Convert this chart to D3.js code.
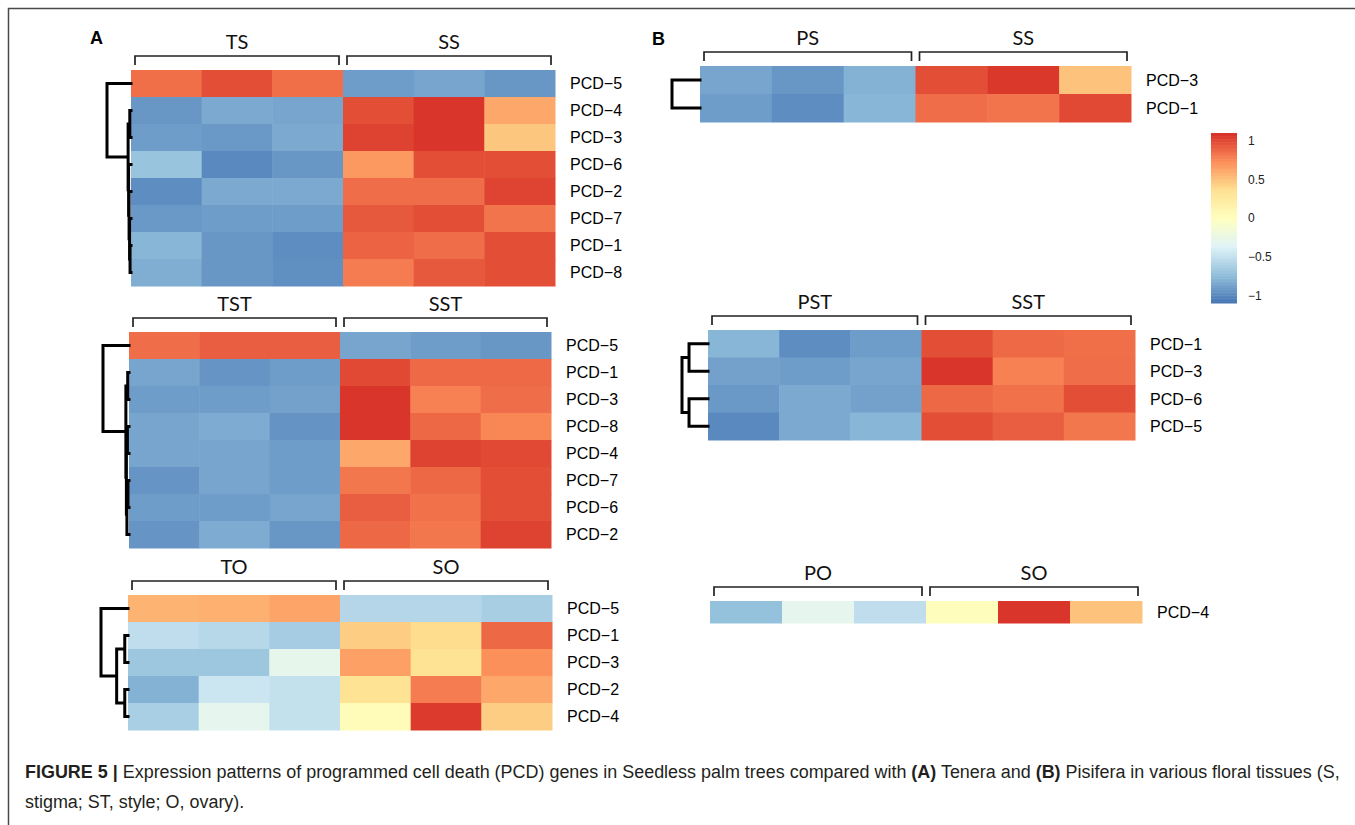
<!DOCTYPE html>
<html>
<head>
<meta charset="utf-8">
<script src="https://cdn.jsdelivr.net/npm/d3@7"></script>
<style>
  body { margin: 0; background: #fff; }
  svg { display: block; }
</style>
</head>
<body>
<svg id="fig" width="1355" height="825"></svg>
<script>
// ---- data (row-scaled expression) ----

// A: Tenera vs Seedless
const aStigmaGroups = ["TS", "SS"];
const aStigmaRows = ["PCD-5", "PCD-4", "PCD-3", "PCD-6", "PCD-2", "PCD-7", "PCD-1", "PCD-8"];
const aStigmaValues = [
  [0.85, 0.98, 0.85, -0.9, -0.86, -0.93],
  [-0.93, -0.84, -0.86, 0.98, 1.08, 0.62],
  [-0.9, -0.92, -0.84, 1.03, 1.08, 0.48],
  [-0.7, -1.0, -0.93, 0.68, 0.98, 0.98],
  [-0.98, -0.84, -0.84, 0.86, 0.86, 1.02],
  [-0.92, -0.9, -0.9, 0.94, 0.98, 0.83],
  [-0.78, -0.93, -0.98, 0.9, 0.86, 0.98],
  [-0.82, -0.93, -0.97, 0.8, 0.94, 0.98]
];
// tree: leaf = row index, node = {h: merge height (0..1), c: [left, right]}
const aStigmaTree = { h: 1, c: [0, { h: 0.12, c: [{ h: 0.05, c: [1, 2] },
  { h: 0.1, c: [3, { h: 0.08, c: [4, { h: 0.06, c: [5, { h: 0.04, c: [6, 7] }] }] }] }] }] };

const aStyleGroups = ["TST", "SST"];
const aStyleRows = ["PCD-5", "PCD-1", "PCD-3", "PCD-8", "PCD-4", "PCD-7", "PCD-6", "PCD-2"];
const aStyleValues = [
  [0.86, 0.92, 0.92, -0.86, -0.9, -0.93],
  [-0.86, -0.94, -0.9, 1.0, 0.87, 0.87],
  [-0.9, -0.9, -0.88, 1.08, 0.78, 0.86],
  [-0.86, -0.83, -0.95, 1.08, 0.88, 0.76],
  [-0.86, -0.86, -0.9, 0.62, 1.03, 1.0],
  [-0.94, -0.86, -0.9, 0.82, 0.88, 0.98],
  [-0.9, -0.9, -0.86, 0.92, 0.84, 0.98],
  [-0.94, -0.83, -0.93, 0.88, 0.82, 1.03]
];
const aStyleTree = { h: 1, c: [0, { h: 0.12, c: [{ h: 0.05, c: [1, 2] },
  { h: 0.1, c: [{ h: 0.06, c: [3, 4] }, { h: 0.08, c: [{ h: 0.04, c: [5, 6] }, 7] }] }] }] };

const aOvaryGroups = ["TO", "SO"];
const aOvaryRows = ["PCD-5", "PCD-1", "PCD-3", "PCD-2", "PCD-4"];
const aOvaryValues = [
  [0.56, 0.58, 0.63, -0.57, -0.57, -0.63],
  [-0.52, -0.56, -0.64, 0.45, 0.38, 0.88],
  [-0.68, -0.68, -0.28, 0.65, 0.33, 0.72],
  [-0.8, -0.46, -0.5, 0.33, 0.8, 0.62],
  [-0.62, -0.3, -0.5, 0.04, 1.06, 0.45]
];
const aOvaryTree = { h: 1, c: [0, { h: 0.42, c: [{ h: 0.12, c: [1, 2] }, { h: 0.12, c: [3, 4] }] }] };

// B: Pisifera vs Seedless
const bStigmaGroups = ["PS", "SS"];
const bStigmaRows = ["PCD-3", "PCD-1"];
const bStigmaValues = [
  [-0.86, -0.93, -0.8, 0.98, 1.07, 0.5],
  [-0.9, -0.98, -0.78, 0.86, 0.83, 1.0]
];
const bStigmaTree = { h: 1, c: [0, 1] };

const bStyleGroups = ["PST", "SST"];
const bStyleRows = ["PCD-1", "PCD-3", "PCD-6", "PCD-5"];
const bStyleValues = [
  [-0.78, -0.98, -0.9, 0.98, 0.87, 0.85],
  [-0.88, -0.9, -0.86, 1.08, 0.78, 0.86],
  [-0.92, -0.84, -0.88, 0.88, 0.84, 0.98],
  [-1.0, -0.84, -0.78, 0.98, 0.92, 0.82]
];
const bStyleTree = { h: 1, c: [{ h: 0.73, c: [0, 1] }, { h: 0.73, c: [2, 3] }] };

const bOvaryGroups = ["PO", "SO"];
const bOvaryRows = ["PCD-4"];
const bOvaryValues = [
  [-0.72, -0.3, -0.52, 0.02, 1.08, 0.5]
];

const legendTicks = [-1, -0.5, 0, 0.5, 1];
const valueRange = [-1.1, 1.1];
const palette = ["#4575B4", "#91BFDB", "#E0F3F8", "#FFFFBF", "#FEE090", "#FC8D59", "#D73027"];

// ---- layout ----
const panels = [
  { groups: aStigmaGroups, rows: aStigmaRows, values: aStigmaValues, tree: aStigmaTree, x0: 131, x1: 555, y0: 70, rowH: 27, dendroW: 24 },
  { groups: aStyleGroups, rows: aStyleRows, values: aStyleValues, tree: aStyleTree, x0: 129, x1: 551, y0: 332, rowH: 27, dendroW: 26 },
  { groups: aOvaryGroups, rows: aOvaryRows, values: aOvaryValues, tree: aOvaryTree, x0: 128, x1: 552, y0: 595, rowH: 27, dendroW: 27 },
  { groups: bStigmaGroups, rows: bStigmaRows, values: bStigmaValues, tree: bStigmaTree, x0: 700, x1: 1131, y0: 66, rowH: 28, dendroW: 28 },
  { groups: bStyleGroups, rows: bStyleRows, values: bStyleValues, tree: bStyleTree, x0: 708, x1: 1135, y0: 330, rowH: 27.5, dendroW: 26 },
  { groups: bOvaryGroups, rows: bOvaryRows, values: bOvaryValues, tree: null, x0: 710, x1: 1142, y0: 601, rowH: 22, dendroW: 0 }
];

const color = d3.scaleLinear()
  .domain(d3.range(palette.length).map(i => valueRange[0] + i * (valueRange[1] - valueRange[0]) / (palette.length - 1)))
  .range(palette)
  .clamp(true);

const svg = d3.select("#fig");
const labelFont = "'Liberation Sans', Arial, sans-serif";
const groupFont = "Lato, 'Open Sans', sans-serif";
const minus = s => s.replace("-", "\u2212");

// frame lines
svg.append("path")
  .attr("d", "M8.5,825 V8.5 H1355")
  .attr("fill", "none")
  .attr("stroke", "#4a4a4a")
  .attr("stroke-width", 1.5);

// panel letters
svg.selectAll("text.letter")
  .data([{ t: "A", x: 90, y: 44 }, { t: "B", x: 652, y: 45 }])
  .enter()
  .append("text")
  .attr("class", "letter")
  .attr("x", d => d.x)
  .attr("y", d => d.y)
  .attr("font-family", labelFont)
  .attr("font-weight", "bold")
  .attr("font-size", 18)
  .text(d => d.t);

function drawHeatmap(p) {
  const g = svg.append("g");
  const nCols = p.values[0].length;
  const perGroup = nCols / p.groups.length;
  const x = d3.scaleBand().domain(d3.range(nCols)).range([p.x0, p.x1]);
  const y = d3.scaleBand().domain(p.rows).range([p.y0, p.y0 + p.rowH * p.rows.length]);

  const cells = p.values.flatMap((row, i) => row.map((v, j) => ({ r: p.rows[i], j, v })));
  g.selectAll("rect.cell")
    .data(cells)
    .enter()
    .append("rect")
    .attr("class", "cell")
    .attr("x", d => x(d.j))
    .attr("y", d => y(d.r))
    .attr("width", x.bandwidth() + 0.5)
    .attr("height", y.bandwidth() + 0.5)
    .attr("fill", d => color(d.v));

  g.selectAll("text.row")
    .data(p.rows)
    .enter()
    .append("text")
    .attr("class", "row")
    .attr("x", p.x1 + 15)
    .attr("y", d => y(d) + y.bandwidth() / 2)
    .attr("dy", "0.36em")
    .attr("font-family", labelFont)
    .attr("font-size", 16)
    .attr("fill", "#000")
    .text(minus);

  // group brackets + labels
  const top = p.y0;
  const grp = p.groups.map((name, gi) => ({
    name,
    left: x(gi * perGroup) + 4,
    right: x(gi * perGroup + perGroup - 1) + x.bandwidth() - 4
  }));
  g.selectAll("path.bracket")
    .data(grp)
    .enter()
    .append("path")
    .attr("class", "bracket")
    .attr("d", d => `M${d.left},${top - 5} V${top - 14} H${d.right} V${top - 5}`)
    .attr("fill", "none")
    .attr("stroke", "#222")
    .attr("stroke-width", 1.7);
  g.selectAll("text.grp")
    .data(grp)
    .enter()
    .append("text")
    .attr("class", "grp")
    .attr("x", d => (d.left + d.right) / 2)
    .attr("y", top - 21)
    .attr("text-anchor", "middle")
    .attr("font-family", groupFont)
    .attr("font-size", 20)
    .attr("fill", "#111")
    .text(d => d.name);

  // dendrogram
  if (!p.tree) return;
  const hx = d3.scaleLinear().domain([0, 1]).range([p.x0, p.x0 - p.dendroW]);
  const path = d3.path();
  function layout(node) {
    if (typeof node === "number") {
      return { x: hx(0), y: y(p.rows[node]) + y.bandwidth() / 2 };
    }
    const kids = node.c.map(layout);
    const nx = hx(node.h);
    kids.forEach(k => { path.moveTo(k.x, k.y); path.lineTo(nx, k.y); });
    path.moveTo(nx, kids[0].y);
    path.lineTo(nx, kids[1].y);
    return { x: nx, y: d3.mean(kids, k => k.y) };
  }
  layout(p.tree);
  g.append("path")
    .attr("d", path.toString())
    .attr("fill", "none")
    .attr("stroke", "#000")
    .attr("stroke-width", 3)
    .attr("stroke-linecap", "square");
}

panels.forEach(drawHeatmap);

// colour legend
const ly = d3.scaleLinear().domain(valueRange).range([303, 133]);
const steps = d3.range(valueRange[0], valueRange[1], 0.02);
const legend = svg.append("g");
legend.selectAll("rect")
  .data(steps)
  .enter()
  .append("rect")
  .attr("x", 1211)
  .attr("width", 26)
  .attr("y", d => ly(d + 0.02))
  .attr("height", d => ly(d) - ly(d + 0.02) + 0.5)
  .attr("fill", d => color(d + 0.01));
legend.append("g")
  .attr("transform", "translate(1237,0)")
  .call(d3.axisRight(ly).tickValues(legendTicks).tickSize(0).tickPadding(11).tickFormat(d3.format("")))
  .call(s => s.select(".domain").remove())
  .selectAll("text")
  .attr("font-family", labelFont)
  .attr("font-size", 12)
  .attr("fill", "#222");

// caption
const capLines = [
  [["FIGURE 5 |", true], [" Expression patterns of programmed cell death (PCD) genes in Seedless palm trees compared with ", false],
   ["(A)", true], [" Tenera and ", false], ["(B)", true], [" Pisifera in various floral tissues (S,", false]],
  [["stigma; ST, style; O, ovary).", false]]
];
const capText = svg.selectAll("text.cap")
  .data(capLines)
  .enter()
  .append("text")
  .attr("class", "cap")
  .attr("x", 25)
  .attr("y", (d, i) => 778 + i * 30)
  .attr("font-family", labelFont)
  .attr("font-size", 16)
  .attr("fill", "#231f20");
capText.selectAll("tspan")
  .data(d => d)
  .enter()
  .append("tspan")
  .attr("font-weight", d => d[1] ? "bold" : "normal")
  .text(d => d[0]);
// fit the first line to the printed width
const w0 = capText.node().getComputedTextLength();
capText.attr("font-size", 16 * 1315 / w0);
</script>
</body>
</html>
